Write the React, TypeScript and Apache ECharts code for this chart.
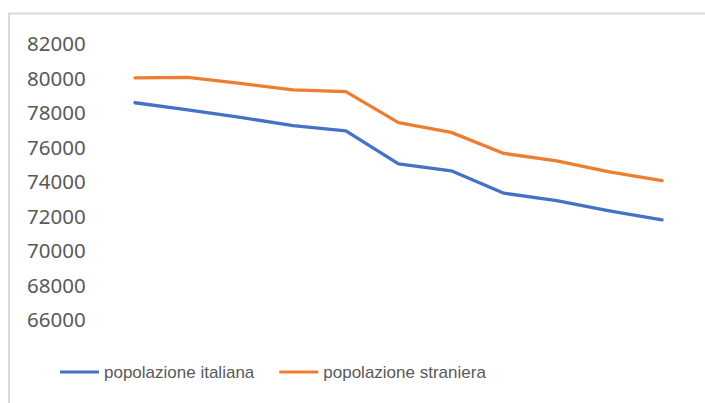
import React, { useEffect, useRef } from "react";
import * as echarts from "echarts";

const categories = ["1", "2", "3", "4", "5", "6", "7", "8", "9", "10", "11"];
const popolazioneItaliana = [78550, 78130, 77700, 77220, 76920, 75000, 74600, 73300, 72870, 72280, 71750];
const popolazioneStraniera = [79990, 80020, 79670, 79300, 79200, 77400, 76830, 75610, 75180, 74540, 74030];
const seriesNames = ["popolazione italiana", "popolazione straniera"];
const yMin = 66000;
const yMax = 82000;
const yStep = 2000;
const titleText = "popolazione";

export default function App() {
  const ref = useRef<HTMLDivElement>(null);
  useEffect(() => {
    if (!ref.current) return;
    const chart = echarts.init(ref.current, null, { renderer: "svg" });
    chart.setOption({
      animation: false,
      backgroundColor: "#ffffff",
      graphic: [
        {
          type: "rect",
          shape: { x: 9, y: 13.5, width: 800, height: 500 },
          style: { fill: "none", stroke: "#d9d9d9", lineWidth: 2 },
          silent: true,
        },
        {
          type: "text",
          x: 144,
          y: -1,
          style: {
            text: titleText,
            fontFamily: "Liberation Sans",
            fontWeight: "bold",
            fontSize: 19,
            fill: "#000000",
            verticalAlign: "bottom",
          },
          silent: true,
        },
      ],
      grid: { left: 108.7, right: 16.6, top: 43.3, bottom: 84 },
      legend: {
        left: 60,
        top: 361,
        padding: 0,
        itemWidth: 39,
        itemHeight: 3,
        itemGap: 25,
        icon: "rect",
        textStyle: { fontFamily: "Liberation Sans", fontSize: 17, color: "#595959", lineHeight: 22 },
        data: seriesNames,
      },
      xAxis: {
        type: "category",
        data: categories,
        boundaryGap: true,
        axisLine: { show: false },
        axisTick: { show: false },
        axisLabel: { show: false },
      },
      yAxis: {
        type: "value",
        min: yMin,
        max: yMax,
        interval: yStep,
        axisLine: { show: false },
        axisTick: { show: false },
        splitLine: { show: false },
        axisLabel: {
          fontFamily: "Noto Sans",
          fontSize: 20.5,
          color: "#595959",
          margin: 23,
          formatter: (v: number) => String(v),
        },
      },
      series: [
        {
          name: seriesNames[0],
          type: "line",
          data: popolazioneItaliana,
          symbol: "none",
          lineStyle: { color: "#4472C4", width: 3.3, cap: "round", join: "round" },
          itemStyle: { color: "#4472C4" },
        },
        {
          name: seriesNames[1],
          type: "line",
          data: popolazioneStraniera,
          symbol: "none",
          lineStyle: { color: "#ED7D31", width: 3.3, cap: "round", join: "round" },
          itemStyle: { color: "#ED7D31" },
        },
      ],
    });
    return () => chart.dispose();
  }, []);
  return (
    <div
      ref={ref}
      style={{ position: "fixed", left: 0, top: 0, width: 705, height: 403 }}
    />
  );
}
